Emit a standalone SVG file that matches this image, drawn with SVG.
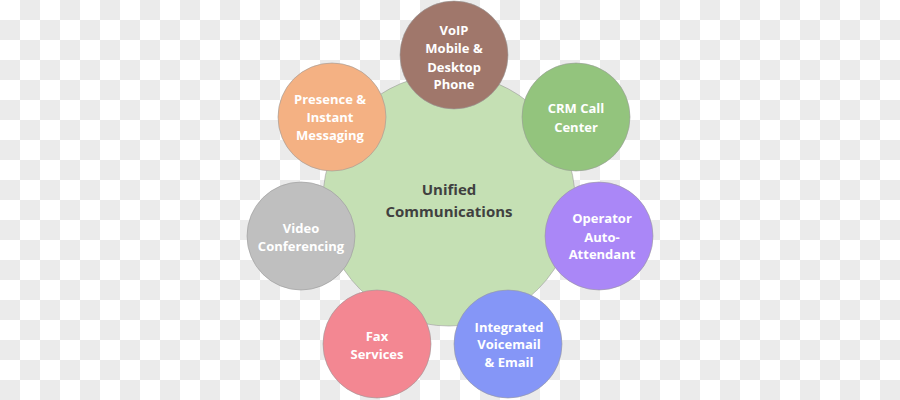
<svg xmlns="http://www.w3.org/2000/svg" width="900" height="400" viewBox="0 0 900 400">
<defs>
<pattern id="checker" width="40" height="40" patternUnits="userSpaceOnUse">
<rect width="40" height="40" fill="#ffffff"/>
<rect x="20" y="0" width="20" height="20" fill="#ebebeb"/>
<rect x="0" y="20" width="20" height="20" fill="#ebebeb"/>
</pattern>
</defs>
<style>
.c{stroke:#9a9a9a;stroke-width:0.6}
.t{font-family:"Open Sans","Liberation Sans",sans-serif;font-weight:700;font-size:13px;fill:#ffffff;text-anchor:middle}
.ct{font-family:"Open Sans","Liberation Sans",sans-serif;font-weight:700;font-size:15px;fill:#404040;text-anchor:middle}
</style>
<rect width="900" height="400" fill="url(#checker)"/>
<g id="connectors"></g>
<g id="center">
<circle class="c" cx="449" cy="200" r="126" fill="#c5e0b4"/>
<text class="ct"><tspan x="449" y="195">Unified</tspan><tspan x="449" y="217">Communications</tspan></text>
</g>
<g id="voip">
<circle class="c" cx="454" cy="55" r="54" fill="#a0776b"/>
<text class="t"><tspan x="454" y="34.5">VoIP</tspan><tspan x="454" y="52.5">Mobile &amp;</tspan><tspan x="454" y="71.5">Desktop</tspan><tspan x="454" y="88.5">Phone</tspan></text>
</g>
<g id="crm">
<circle class="c" cx="576" cy="117" r="54" fill="#93c47d"/>
<text class="t"><tspan x="576" y="112.5">CRM Call</tspan><tspan x="576" y="131.5">Center</tspan></text>
</g>
<g id="operator">
<circle class="c" cx="599" cy="236" r="54" fill="#aa87f7"/>
<text class="t"><tspan x="602" y="222.5">Operator</tspan><tspan x="602" y="241.5">Auto-</tspan><tspan x="602" y="258.5">Attendant</tspan></text>
</g>
<g id="voicemail">
<circle class="c" cx="508" cy="344" r="54" fill="#8596f7"/>
<text class="t"><tspan x="509" y="331.5">Integrated</tspan><tspan x="509" y="348.5">Voicemail</tspan><tspan x="509" y="366.5">&amp; Email</tspan></text>
</g>
<g id="fax">
<circle class="c" cx="377" cy="344" r="54" fill="#f38792"/>
<text class="t"><tspan x="377" y="340.5">Fax</tspan><tspan x="377" y="358.5">Services</tspan></text>
</g>
<g id="video">
<circle class="c" cx="301" cy="236" r="54" fill="#bfbfbf"/>
<text class="t"><tspan x="301" y="232.5">Video</tspan><tspan x="301" y="250.5">Conferencing</tspan></text>
</g>
<g id="presence">
<circle class="c" cx="332" cy="117" r="54" fill="#f4b183"/>
<text class="t"><tspan x="330" y="103.5">Presence &amp;</tspan><tspan x="330" y="121.5">Instant</tspan><tspan x="330" y="139.5">Messaging</tspan></text>
</g>
</svg>
